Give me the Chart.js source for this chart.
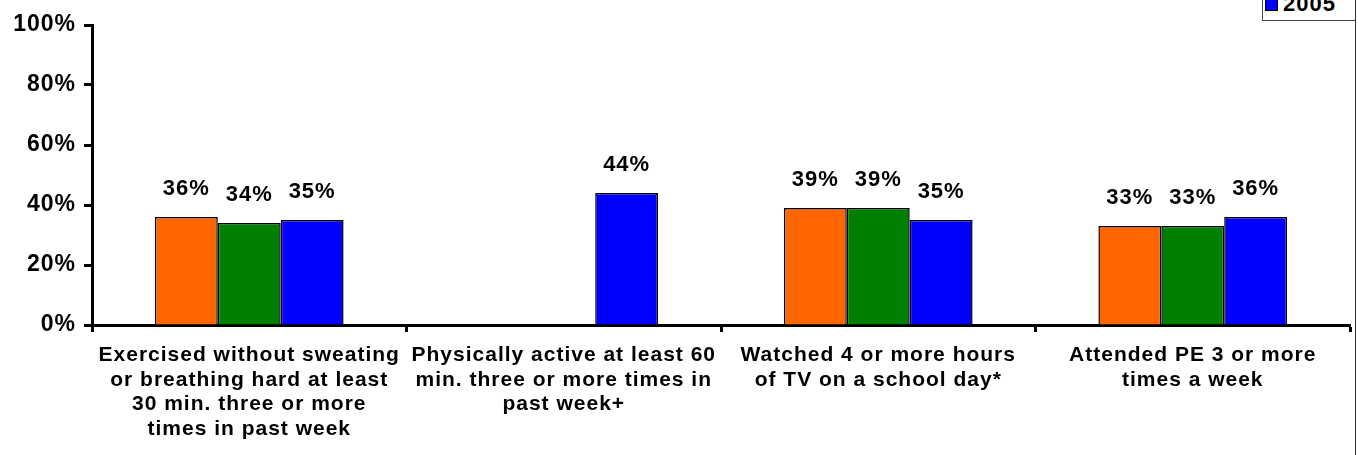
<!DOCTYPE html>
<html>
<head>
<meta charset="utf-8">
<script src="https://cdn.jsdelivr.net/npm/chart.js@4/dist/chart.umd.min.js"></script>
<style>
  html, body { margin: 0; padding: 0; background: #fff; overflow: hidden; }
  #wrap { position: relative; width: 1358px; height: 455px; }
  #legend {
    position: absolute; left: 1262px; top: -12px; width: 93px; height: 33px;
    border: 1px solid #444; border-right: none; background: #fff;
    font: bold 22px Arial, "Liberation Sans", sans-serif; color: #000;
    letter-spacing: 1px; box-sizing: border-box;
  }
  #legend .sw { position: absolute; left: 2px; top: 9px; width: 11px; height: 11px; border: 1px solid #000; }
  #legend .tx { position: absolute; left: 20px; top: 4px; line-height: 22px; }
  #rline { position: absolute; left: 1355px; top: 0; width: 1px; height: 455px; background: #333; }
</style>
</head>
<body>
<div id="wrap">
  <canvas id="chart" width="1358" height="455"></canvas>
  <div id="rline"></div>
  <div id="legend"></div>
</div>
<script>
// categories (multi-line labels)
const categories = [
    ['Exercised without sweating', 'or breathing hard at least', '30 min. three or more', 'times in past week'],
    ['Physically active at least 60', 'min. three or more times in', 'past week+'],
    ['Watched 4 or more hours', 'of TV on a school day*'],
    ['Attended PE 3 or more', 'times a week']
];
const seriesNames = ['2001', '2003', '2005'];
const seriesColors = ['#FF6600', '#008000', '#0000FF'];
const values2001 = [36, null, 39, 33];
const values2003 = [34, null, 39, 33];
const values2005 = [35, 44, 35, 36];
const yTicks = [0, 20, 40, 60, 80, 100];

const FONT = 'Arial, "Liberation Sans", sans-serif';

// legend box (only the 2005 entry is visible in the picture)
const legend = document.getElementById('legend');
legend.innerHTML = '<div class="sw" style="background:' + seriesColors[2] + '"></div><div class="tx">' + seriesNames[2] + '</div>';

// the original text is spaced out a little
const spacing = {
    id: 'spacing',
    beforeDraw(chart) { chart.ctx.letterSpacing = '1px'; },
    afterDraw(chart) { chart.ctx.letterSpacing = '0px'; }
};

// draw value labels above bars
const valueLabels = {
    id: 'valueLabels',
    afterDatasetsDraw(chart) {
        const ctx = chart.ctx;
        ctx.save();
        ctx.letterSpacing = '1px';
        ctx.font = 'bold 22px ' + FONT;
        ctx.fillStyle = '#000';
        ctx.textAlign = 'center';
        ctx.textBaseline = 'middle';
        chart.data.datasets.forEach((ds, i) => {
            const meta = chart.getDatasetMeta(i);
            meta.data.forEach((bar, j) => {
                const v = ds.data[j];
                if (v === null || v === undefined) return;
                ctx.fillText(v + '%', bar.x, bar.y - 28);
            });
        });
        ctx.restore();
    }
};

const ctx = document.getElementById('chart').getContext('2d');
new Chart(ctx, {
    type: 'bar',
    data: {
        labels: categories,
        datasets: [values2001, values2003, values2005].map((vals, i) => ({
            label: seriesNames[i],
            data: vals,
            backgroundColor: seriesColors[i],
            borderColor: '#000',
            borderWidth: 1.5,
            categoryPercentage: 0.6,
            barPercentage: 1.0
        }))
    },
    options: {
        responsive: false,
        animation: false,
        layout: { padding: { top: 25, right: 8, left: 0, bottom: 0 } },
        plugins: {
            legend: { display: false },
            tooltip: { enabled: false }
        },
        scales: {
            x: {
                grid: {
                    offset: true,
                    drawOnChartArea: false,
                    tickLength: 7,
                    tickColor: '#000',
                    tickWidth: 3
                },
                border: { color: '#000', width: 3 },
                ticks: {
                    color: '#000',
                    font: { family: FONT, size: 21, weight: 'bold', lineHeight: 1.17 },
                    padding: 11,
                    maxRotation: 0,
                    autoSkip: false
                },
                afterFit(scale) { scale.height = 130; }
            },
            y: {
                min: 0,
                max: 100,
                afterBuildTicks(scale) { scale.ticks = yTicks.map(v => ({ value: v })); },
                grid: {
                    drawOnChartArea: false,
                    tickLength: 8,
                    tickColor: '#000',
                    tickWidth: 3
                },
                border: { color: '#000', width: 3 },
                ticks: {
                    color: '#000',
                    font: { family: FONT, size: 23, weight: 'bold' },
                    padding: 8,
                    callback: v => v + '%'
                },
                afterFit(scale) { scale.width = 92; }
            }
        }
    },
    plugins: [spacing, valueLabels]
});
</script>
</body>
</html>
